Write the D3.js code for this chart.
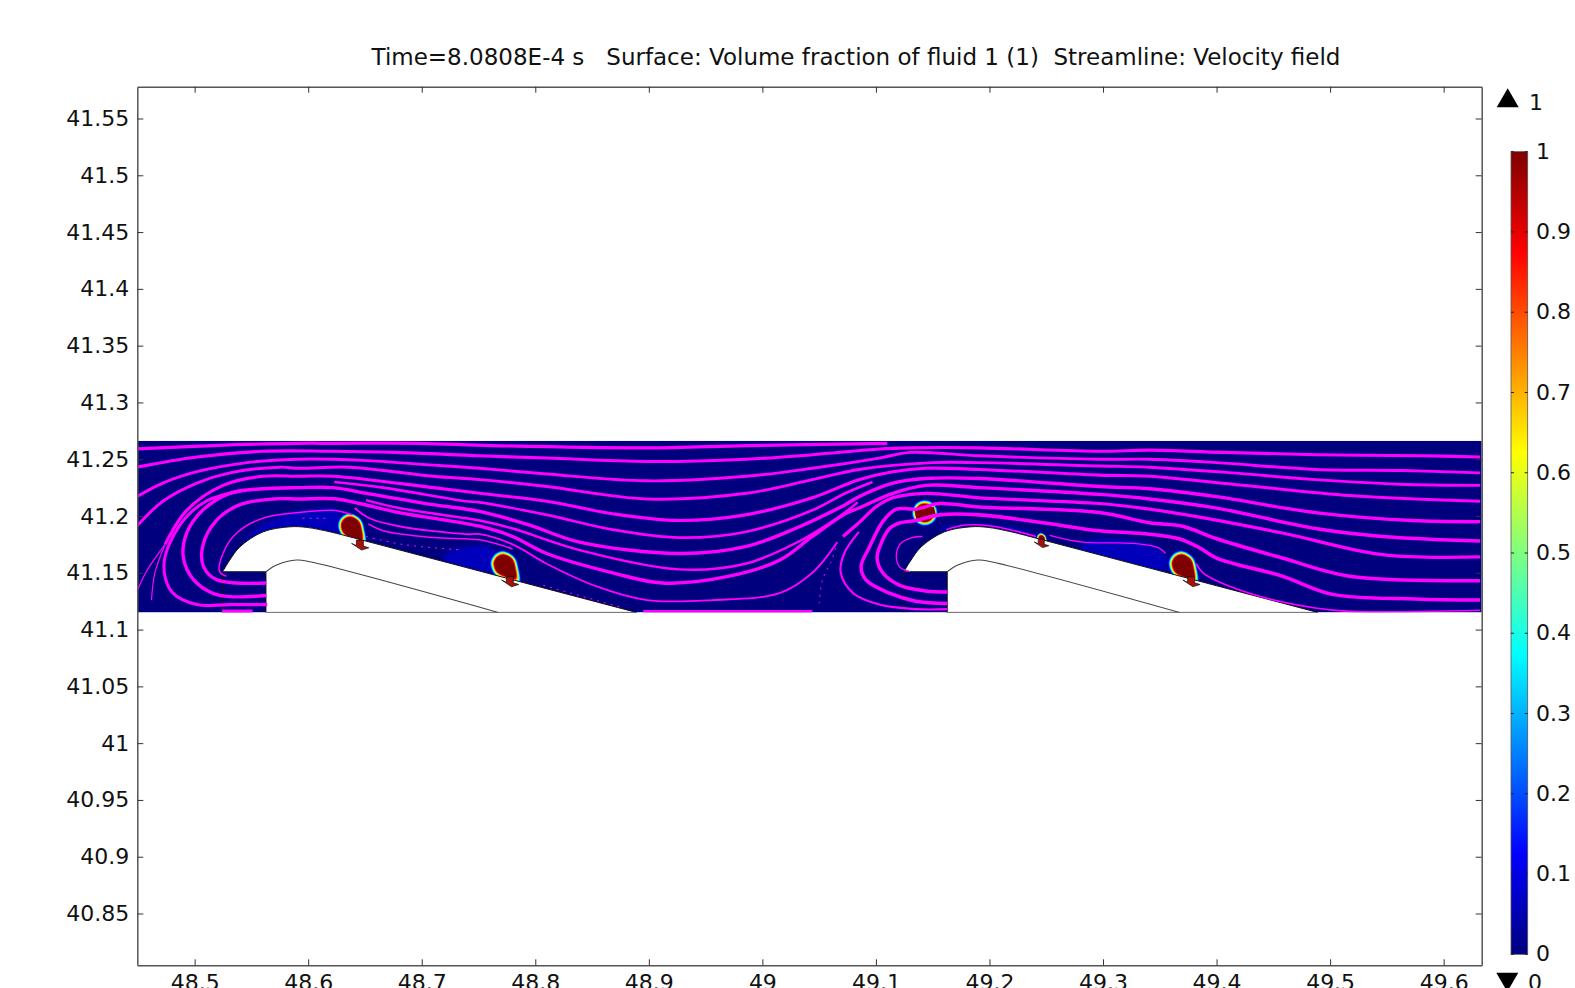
<!DOCTYPE html>
<html>
<head>
<meta charset="utf-8">
<script src="https://cdn.jsdelivr.net/npm/d3@7"></script>
<style>
  html, body { margin: 0; padding: 0; background: #fff; overflow: hidden; }
  text { font-family: "DejaVu Sans", sans-serif; fill: #111; }
</style>
</head>
<body>
<script>
const titleText = "Time=8.0808E-4 s   Surface: Volume fraction of fluid 1 (1)  Streamline: Velocity field";
const xTicks = [48.5, 48.6, 48.7, 48.8, 48.9, 49, 49.1, 49.2, 49.3, 49.4, 49.5, 49.6];
const yTicks = [40.85, 40.9, 40.95, 41, 41.05, 41.1, 41.15, 41.2, 41.25, 41.3, 41.35, 41.4, 41.45, 41.5, 41.55];
const colorTicks = [0, 0.1, 0.2, 0.3, 0.4, 0.5, 0.6, 0.7, 0.8, 0.9, 1];
const jetStops = [0, 0.125, 0.375, 0.625, 0.875, 1];
const jetColors = ["#00007f", "#0000ff", "#00ffff", "#ffff00", "#ff0000", "#7f0000"];

// computational domain
const domainX = [48.4495, 49.6335];
const domainY = [41.1151, 41.2662];

// one period of the solid, repeated at these shifts
const periodShift = [0, 0.6];
const archTop = [[48.5246, 41.1509], [48.5305, 41.1605], [48.5399, 41.1729], [48.5604, 41.1861], [48.5839, 41.1905], [48.5986, 41.19], [48.6191, 41.1861], [48.6308, 41.1832]];
const wallEnd = [[48.8891, 41.1151], [48.5628, 41.1151], [48.5628, 41.1509]];
const innerCurve = [[48.5628, 41.1509], [48.5722, 41.1568], [48.5898, 41.1612], [48.6015, 41.1597], [48.7674, 41.1151]];
const inletEdge = [[48.5246, 41.1509], [48.5246, 41.1151]];

const streamlines = [
  [[48.449, 41.259], [48.516, 41.262], [48.590, 41.264], [48.625, 41.264], [48.698, 41.264], [48.762, 41.262], [48.898, 41.260], [48.986, 41.262], [49.110, 41.264]],
  [[48.449, 41.243], [48.502, 41.252], [48.560, 41.257], [48.619, 41.257], [48.677, 41.256], [48.751, 41.253], [48.810, 41.251], [48.898, 41.248], [48.986, 41.250], [49.044, 41.254], [49.103, 41.259], [49.130, 41.260], [49.191, 41.260], [49.297, 41.257], [49.341, 41.258], [49.405, 41.256], [49.487, 41.254], [49.584, 41.253], [49.632, 41.252]],
  [[48.449, 41.217], [48.472, 41.229], [48.502, 41.239], [48.546, 41.247], [48.590, 41.250], [48.648, 41.249], [48.707, 41.245], [48.751, 41.242], [48.810, 41.237], [48.898, 41.231], [48.986, 41.235], [49.044, 41.242], [49.103, 41.251], [49.130, 41.256], [49.191, 41.253], [49.297, 41.250], [49.341, 41.250], [49.400, 41.247], [49.487, 41.241], [49.564, 41.240], [49.632, 41.238]],
  [[48.449, 41.191], [48.472, 41.213], [48.502, 41.229], [48.531, 41.238], [48.575, 41.243], [48.592, 41.242], [48.636, 41.243], [48.710, 41.235], [48.751, 41.232], [48.810, 41.226], [48.898, 41.215], [48.986, 41.220], [49.044, 41.232], [49.085, 41.241], [49.150, 41.247], [49.191, 41.247], [49.297, 41.244], [49.340, 41.243], [49.414, 41.238], [49.487, 41.232], [49.561, 41.228], [49.632, 41.227]],
  [[48.474, 41.175], [48.493, 41.205], [48.525, 41.227], [48.560, 41.235], [48.592, 41.235], [48.622, 41.235], [48.710, 41.225], [48.751, 41.220], [48.810, 41.213], [48.868, 41.202], [48.927, 41.196], [48.985, 41.201], [49.044, 41.216], [49.085, 41.232], [49.115, 41.239], [49.144, 41.242], [49.191, 41.241], [49.297, 41.236], [49.341, 41.235], [49.423, 41.227], [49.517, 41.218], [49.575, 41.215], [49.632, 41.213]],
  [[48.623, 41.230], [48.666, 41.225], [48.739, 41.213], [48.751, 41.212], [48.810, 41.201], [48.868, 41.188], [48.927, 41.181], [48.985, 41.186], [49.044, 41.205], [49.073, 41.220], [49.097, 41.230]],
  [[48.563, 41.130], [48.531, 41.129], [48.516, 41.132], [48.499, 41.144], [48.490, 41.164], [48.493, 41.185], [48.507, 41.205], [48.531, 41.220], [48.560, 41.224], [48.592, 41.225], [48.622, 41.225], [48.651, 41.220], [48.710, 41.210], [48.751, 41.204], [48.795, 41.192], [48.839, 41.177], [48.927, 41.167], [48.985, 41.173], [49.029, 41.189], [49.073, 41.210], [49.085, 41.217], [49.115, 41.229], [49.144, 41.233], [49.191, 41.233], [49.297, 41.226], [49.341, 41.224], [49.400, 41.217], [49.487, 41.203], [49.572, 41.196], [49.632, 41.195]],
  [[48.651, 41.214], [48.680, 41.207], [48.739, 41.198], [48.751, 41.196], [48.780, 41.189], [48.839, 41.170], [48.927, 41.153], [48.985, 41.158], [49.029, 41.176], [49.067, 41.199], [49.084, 41.212]],
  [[48.563, 41.141], [48.537, 41.141], [48.519, 41.144], [48.508, 41.155], [48.507, 41.173], [48.519, 41.196], [48.540, 41.210], [48.569, 41.215], [48.592, 41.215], [48.625, 41.215], [48.645, 41.211], [48.680, 41.203], [48.751, 41.191], [48.780, 41.182], [48.810, 41.167], [48.868, 41.150], [48.912, 41.141], [48.971, 41.147], [49.015, 41.161], [49.044, 41.182], [49.073, 41.202], [49.085, 41.207], [49.115, 41.220], [49.144, 41.227], [49.191, 41.225], [49.297, 41.219], [49.341, 41.215], [49.400, 41.207], [49.487, 41.189], [49.546, 41.182], [49.632, 41.178]],
  [[48.641, 41.207], [48.654, 41.198], [48.680, 41.191], [48.739, 41.184], [48.751, 41.184], [48.780, 41.175], [48.810, 41.158], [48.854, 41.138], [48.898, 41.126], [48.956, 41.126], [49.015, 41.132], [49.044, 41.150], [49.066, 41.177]],
  [[49.071, 41.182], [49.085, 41.194], [49.100, 41.208], [49.115, 41.216], [49.144, 41.220], [49.191, 41.216], [49.297, 41.211], [49.341, 41.206], [49.385, 41.199], [49.458, 41.185], [49.546, 41.166], [49.632, 41.164]],
  [[49.085, 41.186], [49.072, 41.167], [49.069, 41.150], [49.080, 41.132], [49.103, 41.122], [49.135, 41.118], [49.163, 41.118]],
  [[49.163, 41.123], [49.135, 41.125], [49.112, 41.132], [49.091, 41.144], [49.087, 41.156], [49.094, 41.172], [49.106, 41.195], [49.118, 41.206], [49.135, 41.206], [49.156, 41.211], [49.191, 41.208], [49.297, 41.203], [49.341, 41.194], [49.370, 41.191], [49.400, 41.180], [49.458, 41.163], [49.517, 41.147], [49.632, 41.143]],
  [[49.163, 41.133], [49.144, 41.134], [49.121, 41.139], [49.106, 41.150], [49.101, 41.163], [49.103, 41.172], [49.112, 41.189], [49.121, 41.194], [49.135, 41.196], [49.156, 41.201], [49.191, 41.201], [49.247, 41.194], [49.297, 41.187], [49.341, 41.184], [49.367, 41.180], [49.385, 41.172], [49.400, 41.163], [49.458, 41.147], [49.502, 41.131], [49.575, 41.127], [49.632, 41.126]],
  [[49.130, 41.151], [49.121, 41.155], [49.118, 41.166], [49.122, 41.176], [49.132, 41.181], [49.141, 41.182]],
  [[49.162, 41.188], [49.179, 41.192], [49.203, 41.191], [49.241, 41.182]],
  [[49.253, 41.183], [49.282, 41.177], [49.326, 41.176], [49.349, 41.172], [49.355, 41.167]],
  [[49.382, 41.158], [49.388, 41.150], [49.429, 41.132], [49.487, 41.119], [49.517, 41.116], [49.632, 41.117]],
  [[48.528, 41.147], [48.522, 41.151], [48.525, 41.167], [48.537, 41.185], [48.560, 41.198], [48.592, 41.203], [48.622, 41.205], [48.639, 41.201]],
  [[48.653, 41.193], [48.666, 41.187], [48.710, 41.181], [48.751, 41.179], [48.780, 41.171]],
  [[48.541, 41.222], [48.510, 41.213], [48.487, 41.192], [48.473, 41.158], [48.480, 41.133], [48.502, 41.122], [48.531, 41.122], [48.564, 41.122]],
  [[48.524, 41.116], [48.551, 41.116]],
  [[48.895, 41.116], [49.044, 41.116]],
  [[48.449, 41.133], [48.458, 41.152], [48.474, 41.175]],
  [[48.462, 41.126], [48.465, 41.150], [48.474, 41.175]]
];
// relative speed along each streamline, sets its width
const lineSpeed = [0.75, 0.7, 0.65, 0.65, 0.7, 0.55, 0.8, 0.5, 0.8, 0.3, 0.75, 0.4, 0.85, 0.85, 0.15, 0.2, 0.12, 0.25, 0.2, 0.2, 0.7, 1, 0.6, 0.12, 0.1];

const dottedLines = [
  [[48.595, 41.198], [48.616, 41.198]],
  [[48.651, 41.182], [48.683, 41.175], [48.736, 41.170]],
  [[48.807, 41.139], [48.874, 41.120]],
  [[49.050, 41.123], [49.053, 41.144], [49.061, 41.161], [49.066, 41.177]]
];

// thin film of fluid 1 left on the wall
const filmRegions = [
  [[48.546, 41.180], [48.566, 41.196], [48.592, 41.204], [48.625, 41.205], [48.636, 41.188], [48.601, 41.182]],
  [[48.721, 41.167], [48.762, 41.172], [48.768, 41.152], [48.721, 41.158]],
  [[49.282, 41.176], [49.344, 41.174], [49.358, 41.158], [49.340, 41.147], [49.282, 41.161]],
  [[49.156, 41.188], [49.188, 41.192], [49.238, 41.185], [49.220, 41.179], [49.165, 41.182]]
];

// droplets on the wall
const dropX = [48.638, 48.773, 49.3703, 49.246];
const dropY = [41.1905, 41.1568, 41.1568, 41.1805];
const dropSize = [0.0086, 0.0091, 0.0091, 0.0024];
const dropOutline = [[-0.09, 1], [0.71, 0.55], [1, -0.3], [1.05, -1.25], [0.14, -1.1], [-0.71, -0.65], [-1, 0.15], [-0.71, 0.75]];
const contourLevels = [0.03, 0.12, 0.25, 0.38, 0.5, 0.62, 0.75, 0.88, 1];

// detached droplet
const bubbleX = 49.143;
const bubbleY = 41.2028;
const bubbleSize = 0.0078;
const bubbleCore = [[49.134, 41.205], [49.151, 41.208], [49.153, 41.200], [49.136, 41.196]];

// ligaments under the wall
const anchorX = [48.6455, 48.7776, 49.3776, 49.2456];
const anchorY = [41.1744, 41.1421, 41.1421, 41.1759];
const anchorOutline = [[-0.0031, 0.0044], [0.0031, 0.0044], [0.0031, -0.0009], [0.0079, -0.0024], [0.0015, -0.0044], [-0.0073, 0.0015], [-0.0031, -0.0004]];
const anchorScale = [1, 1, 1, 0.85];

const width = 1575, height = 988;
const margin = { left: 137.3, right: 1481.7, top: 86.7, bottom: 965.3 };

const x = d3.scaleLinear().domain([48.4495, 49.6335]).range([margin.left, margin.right]);
const y = d3.scaleLinear().domain([40.8044, 41.578]).range([margin.bottom, margin.top]);
const jet = d3.scaleLinear().domain(jetStops).range(jetColors);
const barScale = d3.scaleLinear().domain([0, 1]).range([954.3, 151.7]);
const speedWidth = d3.scaleLinear().domain([0, 1]).range([0.9, 4]);

const svg = d3.select("body").append("svg")
  .attr("width", width)
  .attr("height", height)
  .style("display", "block");

const defs = svg.append("defs");
defs.append("clipPath").attr("id", "band-clip")
  .append("rect")
  .attr("x", x(domainX[0]))
  .attr("y", y(domainY[1]))
  .attr("width", x(domainX[1]) - x(domainX[0]))
  .attr("height", y(domainY[0]) - y(domainY[1]));
defs.append("filter").attr("id", "soft").append("feGaussianBlur").attr("stdDeviation", 0.5);
defs.append("filter").attr("id", "softer").append("feGaussianBlur").attr("stdDeviation", 2);
const grad = defs.append("linearGradient").attr("id", "jet-bar")
  .attr("x1", 0).attr("y1", 1).attr("x2", 0).attr("y2", 0);
grad.selectAll("stop").data(jetStops).join("stop")
  .attr("offset", (d) => d)
  .attr("stop-color", (d) => jet(d));

const line = d3.line().x((d) => x(d[0])).y((d) => y(d[1])).curve(d3.curveCatmullRom);
const straight = d3.line().x((d) => x(d[0])).y((d) => y(d[1]));
const closedBlob = d3.line().x((d) => x(d[0])).y((d) => y(d[1])).curve(d3.curveCatmullRomClosed);
const polygon = d3.line().x((d) => x(d[0])).y((d) => y(d[1])).curve(d3.curveLinearClosed);

const plot = svg.append("g").attr("clip-path", "url(#band-clip)");

plot.append("rect")
  .attr("x", x(domainX[0]))
  .attr("y", y(domainY[1]))
  .attr("width", x(domainX[1]) - x(domainX[0]))
  .attr("height", y(domainY[0]) - y(domainY[1]))
  .attr("fill", jet(0));

plot.append("g").attr("filter", "url(#softer)")
  .selectAll("path").data(filmRegions).join("path")
  .attr("d", closedBlob)
  .attr("fill", jet(0.06));

// contours of each droplet, drawn outer to inner
const drops = plot.append("g").attr("filter", "url(#soft)");
dropX.forEach((cx, i) => {
  const ring = i == 3 ? 1.1 : 0.48;
  drops.append("g").selectAll("path").data(contourLevels).join("path")
    .attr("d", (lev) => {
      const grow = dropSize[i] * (1 + ring * (1 - lev));
      return closedBlob(dropOutline.map((p) => [cx + p[0] * grow, dropY[i] + p[1] * grow]));
    })
    .attr("fill", (lev) => jet(lev));
});
const circlePts = d3.range(0, 2 * Math.PI, Math.PI / 8);
drops.append("g").selectAll("path").data(contourLevels).join("path")
  .attr("d", (lev) => {
    const grow = bubbleSize * (1 + 0.55 * (1 - lev));
    return closedBlob(circlePts.map((t) => [bubbleX + Math.cos(t) * grow, bubbleY + Math.sin(t) * grow]));
  })
  .attr("fill", (lev) => jet(lev));
plot.append("path").attr("d", polygon(bubbleCore)).attr("fill", jet(1));

// solid periods
periodShift.forEach((dx) => {
  const shift = (p) => [p[0] + dx, p[1]];
  const arch = line(archTop.map(shift));
  const rest = wallEnd.map(shift).map((p) => `L${x(p[0])},${y(p[1])}`).join("");
  plot.append("path")
    .attr("d", arch + rest + "Z")
    .attr("fill", "#fff")
    .attr("stroke", "#111")
    .attr("stroke-width", 1);
  plot.append("path")
    .attr("d", line(innerCurve.map(shift)))
    .attr("fill", "none")
    .attr("stroke", "#444")
    .attr("stroke-width", 1.1);
  plot.append("path")
    .attr("d", straight(inletEdge.map(shift)))
    .attr("stroke", "#111")
    .attr("stroke-width", 1);
});

plot.append("g").selectAll("path").data(anchorX).join("path")
  .attr("d", (cx, i) => polygon(anchorOutline.map((p) => [cx + p[0] * anchorScale[i], anchorY[i] + p[1] * anchorScale[i]])))
  .attr("fill", "#a81008")
  .attr("stroke", "#111")
  .attr("stroke-width", 0.7);

const streams = plot.append("g").attr("fill", "none").attr("stroke", "#ff00ff").attr("stroke-linecap", "butt");
streams.selectAll("path.stream").data(streamlines).join("path")
  .attr("class", "stream")
  .attr("d", line)
  .attr("stroke-width", (d, i) => speedWidth(lineSpeed[i]));
streams.selectAll("path.dotted").data(dottedLines).join("path")
  .attr("class", "dotted")
  .attr("d", line)
  .attr("stroke-width", 1)
  .attr("stroke-dasharray", "2 5");

// axes: box with ticks on all four sides, pointing inward
const fmt = (d) => String(d);
const axisG = svg.append("g");
const styleAxis = (g) => {
  g.selectAll(".domain").attr("stroke", "#555").attr("stroke-width", 1.5);
  g.selectAll(".tick line").attr("stroke", "#333");
  g.selectAll("text").attr("font-size", 22).attr("font-family", "DejaVu Sans").attr("fill", "#111");
};
axisG.append("g").attr("transform", `translate(0,${margin.bottom})`)
  .call(d3.axisBottom(x).tickValues(xTicks).tickFormat(fmt).tickSizeInner(-6).tickSizeOuter(0).tickPadding(9))
  .call(styleAxis);
axisG.append("g").attr("transform", `translate(0,${margin.top})`)
  .call(d3.axisTop(x).tickValues(xTicks).tickFormat("").tickSizeInner(-6).tickSizeOuter(0))
  .call(styleAxis);
axisG.append("g").attr("transform", `translate(${margin.left},0)`)
  .call(d3.axisLeft(y).tickValues(yTicks).tickFormat(fmt).tickSizeInner(-6).tickSizeOuter(0).tickPadding(8))
  .call(styleAxis);
axisG.append("g").attr("transform", `translate(${margin.right},0)`)
  .call(d3.axisRight(y).tickValues(yTicks).tickFormat("").tickSizeInner(-6).tickSizeOuter(0))
  .call(styleAxis);

svg.append("text")
  .attr("x", 856)
  .attr("y", 65)
  .attr("text-anchor", "middle")
  .attr("font-size", 23)
  .style("white-space", "pre")
  .text(titleText);

// colour legend
const legend = svg.append("g");
legend.append("rect")
  .attr("x", 1511)
  .attr("y", barScale(1))
  .attr("width", 16.7)
  .attr("height", barScale(0) - barScale(1))
  .attr("fill", "url(#jet-bar)")
  .attr("stroke", "#555")
  .attr("stroke-width", 0.8);
const barTicks = legend.selectAll("g").data(colorTicks).join("g")
  .attr("transform", (d) => `translate(0,${barScale(d)})`);
barTicks.append("line").attr("x1", 1511).attr("x2", 1514).attr("stroke", "#222");
barTicks.append("line").attr("x1", 1524.7).attr("x2", 1527.7).attr("stroke", "#222");
barTicks.append("text")
  .attr("x", 1536)
  .attr("dy", "0.32em")
  .attr("font-size", 22)
  .text(fmt);

legend.append("path").attr("d", d3.symbol(d3.symbolTriangle, 210)()).attr("transform", "translate(1507.7,101)").attr("fill", "#000");
legend.append("text").attr("x", 1529).attr("y", 110).attr("font-size", 22).text("1");
legend.append("path").attr("d", d3.symbol(d3.symbolTriangle, 210)()).attr("transform", "translate(1507.3,979) rotate(180)").attr("fill", "#000");
legend.append("text").attr("x", 1528).attr("y", 990).attr("font-size", 22).text("0");
</script>
</body>
</html>
